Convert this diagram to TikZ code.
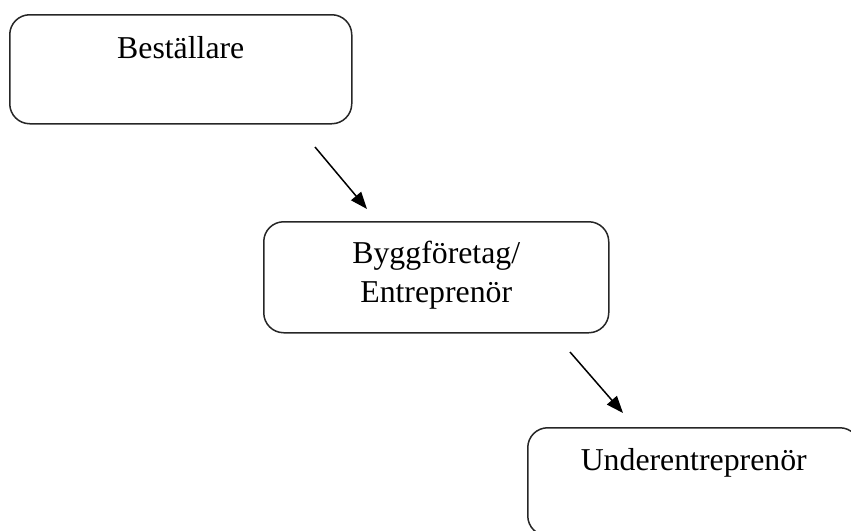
\documentclass[tikz,border=0pt]{standalone}
\usepackage{fontspec}
\setmainfont{Liberation Serif}
\usetikzlibrary{arrows.meta}
\begin{document}
\begin{tikzpicture}[x=1pt,y=-1pt,
  box/.style={draw=black!85, line width=1.5pt, rounded corners=20pt, anchor=north west, inner sep=0pt},
  lbl/.style={font=\fontsize{31.8}{38.5}\selectfont, anchor=base, inner sep=0pt},
  conn/.style={line width=1.5pt, -{Triangle[length=17pt,width=13pt]}}]
\useasboundingbox (0,0) rectangle (851,530);
\clip (0,0) rectangle (851,530);
\node[box, minimum width=342pt, minimum height=109pt] (b1) at (9,14) {};
\node[lbl] (t1) at ([yshift=-44pt]b1.north) {Beställare};
\node[box, minimum width=345pt, minimum height=111pt] (b2) at (263,221) {};
\node[lbl] (t2a) at ([yshift=-42pt]b2.north) {Byggföretag/};
\node[lbl] (t2b) at ([yshift=-81pt]b2.north) {Entreprenör};
\node[box, minimum width=332pt, minimum height=108pt] (b3) at (527,427) {};
\node[lbl] (t3) at ([yshift=-43pt]b3.north) {Underentreprenör};
\coordinate (a1s) at (315,147);
\coordinate (a1e) at (367,209);
\coordinate (a2s) at (570,352);
\coordinate (a2e) at (623,413);
\draw[conn] (a1s) -- (a1e);
\draw[conn] (a2s) -- (a2e);
\end{tikzpicture}
\end{document}
